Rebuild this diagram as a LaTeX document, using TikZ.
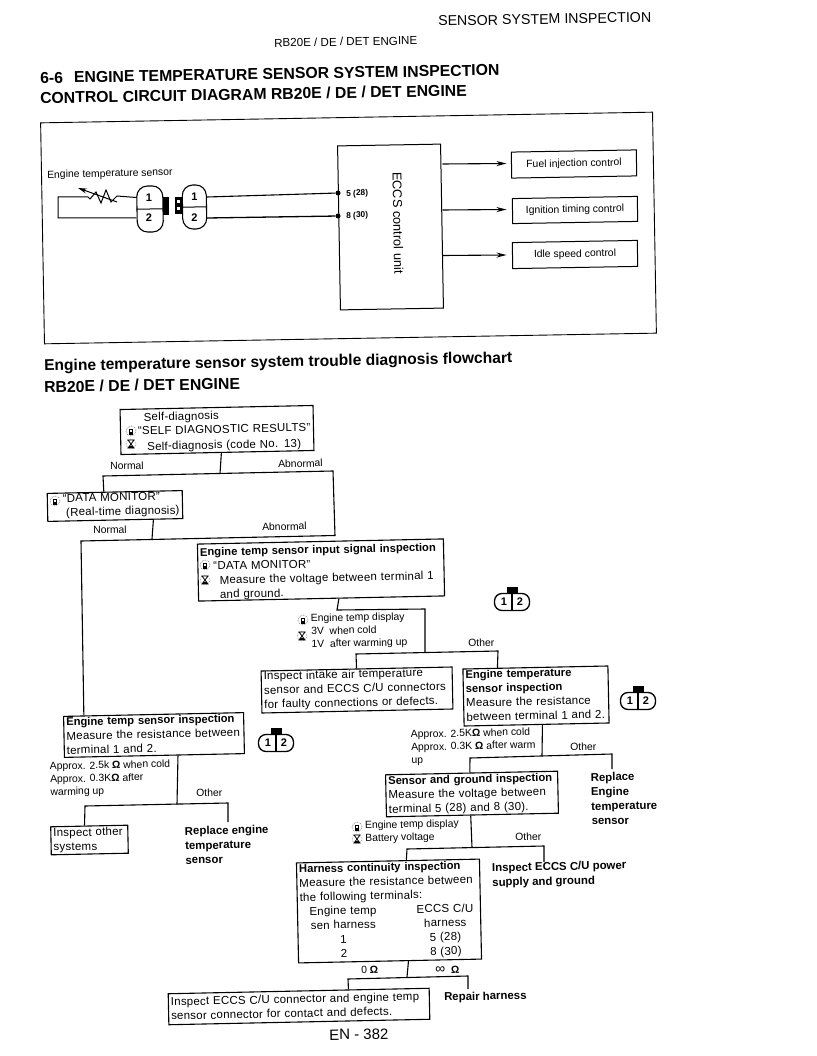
\documentclass[tikz,border=0pt]{standalone}
\usepackage{fontspec}
\setmainfont{Liberation Sans}
\usetikzlibrary{arrows.meta,calc}
\newfontfamily\wide[WordSpace=1.9,LetterSpace=2]{Liberation Sans}
\newfontfamily\headf[WordSpace=1.6]{Liberation Sans}
\newcommand\hd[1]{\mbox{\headf\bfseries\fontsize{11.2}{14.2}\selectfont #1}}
\newcommand\sat[2]{($(#1.south west)!#2!(#1.south east)$)}
\newcommand\nat[2]{($(#1.north west)!#2!(#1.north east)$)}
\tikzset{
  ln/.style={line width=1.1pt,line join=miter},
  flowbox/.style n args={3}{draw,line width=1.1pt,rotate=1.2,inner xsep=2.5pt,inner ysep=0pt,
     text width=#1pt-5pt,text height=#3pt+1pt,text depth=#2pt-#3pt-1pt,align=left,font=\wide\fontsize{11.5}{14.2}\selectfont},
  ctlbox/.style n args={2}{draw,line width=1pt,rotate=1,minimum width=#1pt,minimum height=#2pt,inner sep=0pt,font=\fontsize{10.4}{12}\selectfont},
  lab/.style={rotate=1.2,anchor=west,inner sep=0pt,align=left,font=\fontsize{10.4}{12.8}\selectfont},
  res/.style={rotate=1.2,anchor=west,inner sep=0pt,align=left,font=\bfseries\fontsize{11.4}{14.5}\selectfont},
  ttl/.style={rotate=1,anchor=west,inner sep=0pt,font=\bfseries\fontsize{15.8}{18}\selectfont},
  hdr/.style={rotate=1,anchor=west,inner sep=0pt},
  pinnum/.style={inner sep=0pt,font=\bfseries\fontsize{11}{12}\selectfont},
  pics/conn/.style={code={
    \fill (-5.5,-15) rectangle (6,-7.5);
    \node[draw,line width=1.3pt,rounded corners=7.5pt,minimum width=35pt,minimum height=17pt,inner sep=0pt,fill=white] (-oval) at (0,0) {};
    \draw[line width=1.1pt] (-oval.north) -- (-oval.south);
    \node[pinnum] (-one) at (-8,0) {1};
    \node[pinnum] (-two) at (8,0) {2};
  }},
  pics/mon/.style={code={
    \draw[gray,densely dotted,line width=.7pt] (0,0) circle (5pt);
    \fill (-2.2,-2) rectangle (2.2,4);
    \fill[white] (-1.2,-1.2) rectangle (1.2,.6);
  }},
  pics/tst/.style={code={
    \draw[gray,densely dotted,line width=.6pt] (0,0) circle (5pt);
    \draw[line width=.8pt] (-3,-4) -- (3,-4) -- (-3,4) -- (3,4) -- cycle;
    \fill (-1.6,2) rectangle (1.6,4);
  }}
}
\begin{document}
\begin{tikzpicture}[x=1pt,y=-1pt]
\useasboundingbox (0,0) rectangle (816,1056);

% ---------- headers
\node[hdr,font=\fontsize{14.2}{16}\selectfont] (h1) at (438,21) {SENSOR SYSTEM INSPECTION};
\node[hdr,font=\fontsize{11.6}{13}\selectfont] (h2) at (274,43) {RB20E / DE / DET ENGINE};
\node[ttl] (t1) at (40,78) {6-6\hspace{11pt}ENGINE TEMPERATURE SENSOR SYSTEM INSPECTION};
\node[ttl] (t2) at (40,98) {CONTROL CIRCUIT DIAGRAM RB20E / DE / DET ENGINE};
\node[ttl,font=\bfseries\fontsize{15.6}{18}\selectfont] (t3) at (44,367) {Engine temperature sensor system trouble diagnosis flowchart};
\node[ttl] (t4) at (44,387) {RB20E / DE / DET ENGINE};

% ---------- circuit diagram
\node[ctlbox={612}{221},line width=.9pt] (frame) at (348.5,228) {};
\node[ctlbox={103}{164}] (eccs) at (390.5,227) {};
\node[rotate=-89,inner sep=0pt,font=\fontsize{12.8}{14}\selectfont] (eccst) at (398,223) {ECCS control unit};
\node[ctlbox={125}{26}] (fuel) at (574,164) {Fuel injection control};
\node[ctlbox={125}{25}] (ign) at (575,210) {Ignition timing control};
\node[ctlbox={125}{26}] (idle) at (575,254.5) {Idle speed control};
\foreach \b/\t in {fuel/164,ign/210,idle/255.5}
  \draw[line width=1.1pt,-{Stealth[length=10pt,width=5pt]}] (eccs.east |- {0,\t}) -- ++(64,-.5);

\node[lab,font=\fontsize{10.4}{12}\selectfont] (senslab) at (47,175.5) {Engine temperature sensor};
\node[draw,line width=1.1pt,rounded corners=10.5pt,rotate=1,minimum width=26pt,minimum height=46pt,inner sep=0pt] (capL) at (150,209) {};
\node[draw,line width=1.1pt,rounded corners=10.5pt,rotate=1,minimum width=24pt,minimum height=44pt,inner sep=0pt] (capR) at (194.5,207) {};
\draw[line width=1pt] (capL.west) -- (capL.east);
\draw[line width=1pt] (capR.west) -- (capR.east);
\node[pinnum] (L1) at (149,197.5) {1};
\node[pinnum] (L2) at (149,218) {2};
\node[pinnum] (R1) at (194.5,197) {1};
\node[pinnum] (R2) at (194.5,218) {2};
\fill (163,197) rectangle (168.5,215);
\fill (175,197.5) rectangle (182,214);
\fill[white] (177,200) rectangle (180,203);
\fill[white] (177,207) rectangle (180,210);
\node[circle,fill,inner sep=0pt,minimum size=5pt] (d5) at (338,193) {};
\node[circle,fill,inner sep=0pt,minimum size=5pt] (d8) at (338,216) {};
\node[lab,font=\bfseries\fontsize{8.4}{10}\selectfont] (t5) at (346,194) {5 (28)};
\node[lab,font=\bfseries\fontsize{8.4}{10}\selectfont] (t8) at (346,216) {8 (30)};
\draw[line width=1.1pt] (capR.east |- R1) -- (d5);
\draw[line width=1.3pt] (capR.east |- R2) -- (d8);
\coordinate (wa) at (58,197);
\coordinate (wb) at (58,218);
\draw[line width=1pt] (capL.west |- L1) -- (117,196) -- (111,202) -- (106,190) -- (101,203) -- (96,192) -- (90,199) -- (88,197) -- (wa) -- (wb) -- (capL.west |- L2);
\draw[line width=1pt,{Stealth[length=9pt,width=5pt]}-] (78,188) -- (117,202);

% ---------- flow boxes
\node[flowbox={193}{45}{11}] (b1) at (217,430) {\hspace*{21pt}Self-diagnosis\\[-.5pt]\hspace*{15pt}“SELF DIAGNOSTIC RESULTS”\\[1.5pt]\hspace*{24pt}Self-diagnosis (code No. 13)};
\node[flowbox={135}{28}{8}] (b2) at (115,506) {\hspace*{13pt}“DATA MONITOR”\\\hspace*{16pt}(Real-time diagnosis)};
\node[flowbox={246}{57}{11}] (b3) at (321,570) {\hd{Engine temp sensor input signal inspection}\\\hspace*{13pt}“DATA MONITOR”\\\hspace*{19pt}Measure the voltage between terminal 1\\\hspace*{19pt}and ground.};
\node[flowbox={191}{42}{8}] (b5) at (357,690) {Inspect intake air temperature\\sensor and ECCS C/U connectors\\for faulty connections or defects.};
\node[flowbox={145}{57}{8.5}] (b6) at (536,696) {\hd{Engine temperature}\\\hd{sensor inspection}\\Measure the resistance\\between terminal 1 and 2.};
\node[flowbox={180}{41}{8.5}] (b4) at (154,735) {\hd{Engine temp sensor inspection}\\Measure the resistance between\\terminal 1 and 2.};
\node[flowbox={77}{28}{9}] (b10) at (89.5,840) {Inspect other\\systems};
\node[flowbox={172}{42}{9}] (b7) at (472,794) {\hd{Sensor and ground inspection}\\Measure the voltage between\\terminal 5 (28) and 8 (30).};
\node[flowbox={183}{100}{9}] (b8) at (389,911) {\hd{Harness continuity inspection}\\Measure the resistance between\\the following terminals:\\\makebox[86pt][c]{Engine temp}\hspace{29pt}\makebox[60pt][c]{ECCS C/U}\\\makebox[86pt][c]{sen harness}\hspace{29pt}\makebox[60pt][c]{harness}\\\makebox[86pt][c]{1}\hspace{29pt}\makebox[60pt][c]{5 (28)}\\\makebox[86pt][c]{2}\hspace{29pt}\makebox[60pt][c]{8 (30)}};
\node[flowbox={261}{31}{11}] (b9) at (299,1006.5) {Inspect ECCS C/U connector and engine temp\\sensor connector for contact and defects.};

% ---------- results
\node[res] (r1) at (185,845.5) {Replace engine\\temperature\\sensor};
\node[res] (r2) at (591,799) {Replace\\Engine\\temperature\\sensor};
\node[res] (r3) at (492,876) {Inspect ECCS C/U power\\supply and ground};
\node[res] (r4) at (444,998) {Repair harness};
\node[hdr,font=\fontsize{15}{17}\selectfont] (en) at (329,1035) {EN - 382};

% ---------- labels
\node[lab] (l1) at (110,466) {Normal};
\node[lab] (l2) at (278,464) {Abnormal};
\node[lab] (l3) at (93,530) {Normal};
\node[lab] (l4) at (262,527) {Abnormal};
\node[lab] (l5) at (311,632) {Engine temp display\\3V\ \ when cold\\1V\ \ after warming up};
\node[lab] (l6) at (468,643) {Other};
\node[lab] (l7) at (411,748) {Approx. 2.5K\textbf{Ω} when cold\\Approx. 0.3K \textbf{Ω} after warm\\up};
\node[lab] (l8) at (570,747) {Other};
\node[lab] (l9) at (50,780) {Approx. 2.5k \textbf{Ω} when cold\\Approx. 0.3K\textbf{Ω} after\\warming up};
\node[lab] (l10) at (196,793) {Other};
\node[lab] (l11) at (365,832.5) {Engine temp display\\Battery voltage};
\node[lab] (l12) at (515,837) {Other};
\node[lab] (l13) at (361,970) {0 \textbf{Ω}};
\node[lab] (l14) at (435,970) {{\fontsize{14}{14}\selectfont ∞}\ \ \textbf{Ω}};

% ---------- connectors
\coordinate (j1) at (220,473.5);
\coordinate (j1l) at (103,476);
\coordinate (j1r) at (333,471);
\draw[ln] \sat{b1}{.52} -- (j1);
\draw[ln] \nat{b2}{.42} -- (j1l) -- (j1r) -- (335,536);
\coordinate (j2) at (152,539);
\coordinate (j2l) at (81,541);
\coordinate (j2r) at (335,535.5);
\draw[ln] \sat{b2}{.78} -- (j2);
\draw[ln] (j2r) -- (j2l) -- \nat{b4}{.115};
\coordinate (j3a) at (337,610);
\coordinate (j3b) at (425,609);
\coordinate (j3c) at (425,652.5);
\coordinate (j3l) at (356,654);
\coordinate (j3r) at (498,651);
\draw[ln] \sat{b3}{.57} -- (j3a) -- (j3b) -- (j3c);
\draw[ln] \nat{b5}{.5} -- (j3l) -- (j3r) -- \nat{b6}{.24};
\coordinate (j4) at (542,756);
\coordinate (j4l) at (470,758);
\coordinate (j4r) at (612,754);
\coordinate (e4r) at (612,769);
\draw[ln] \sat{b6}{.54} -- (j4);
\draw[ln] \nat{b7}{.49} -- (j4l) -- (j4r) -- (e4r);
\coordinate (j5) at (177,804.5);
\coordinate (j5l) at (85,806);
\coordinate (j5r) at (228,803);
\coordinate (e5r) at (228,822);
\draw[ln] \sat{b4}{.63} -- (j5);
\draw[ln] \nat{b10}{.44} -- (j5l) -- (j5r) -- (e5r);
\coordinate (j6) at (472,847.5);
\coordinate (j6l) at (407,849);
\coordinate (j6r) at (544,846);
\coordinate (e6r) at (544,862);
\draw[ln] \sat{b7}{.49} -- (j6);
\draw[ln] \nat{b8}{.6} -- (j6l) -- (j6r) -- (e6r);
\coordinate (j7) at (407,977);
\coordinate (j7l) at (348,979);
\coordinate (j7r) at (468,976);
\coordinate (e7r) at (468,989);
\draw[ln] \sat{b8}{.6} -- (j7);
\draw[ln] \nat{b9}{.69} -- (j7l) -- (j7r) -- (e7r);

% ---------- connector symbols and small icons
\pic (c1) at (512,602) {conn};
\pic (c2) at (638,701) {conn};
\pic (c3) at (276,743) {conn};
\pic (m1) at (131,431) {mon};
\pic (m2) at (55,501) {mon};
\pic (m3) at (205,565) {mon};
\pic (m4) at (303,620) {mon};
\pic (m5) at (357,827) {mon};
\pic (s1) at (131,444) {tst};
\pic (s2) at (205,580) {tst};
\pic (s3) at (302,636) {tst};
\pic (s4) at (357,839) {tst};
\end{tikzpicture}
\end{document}
